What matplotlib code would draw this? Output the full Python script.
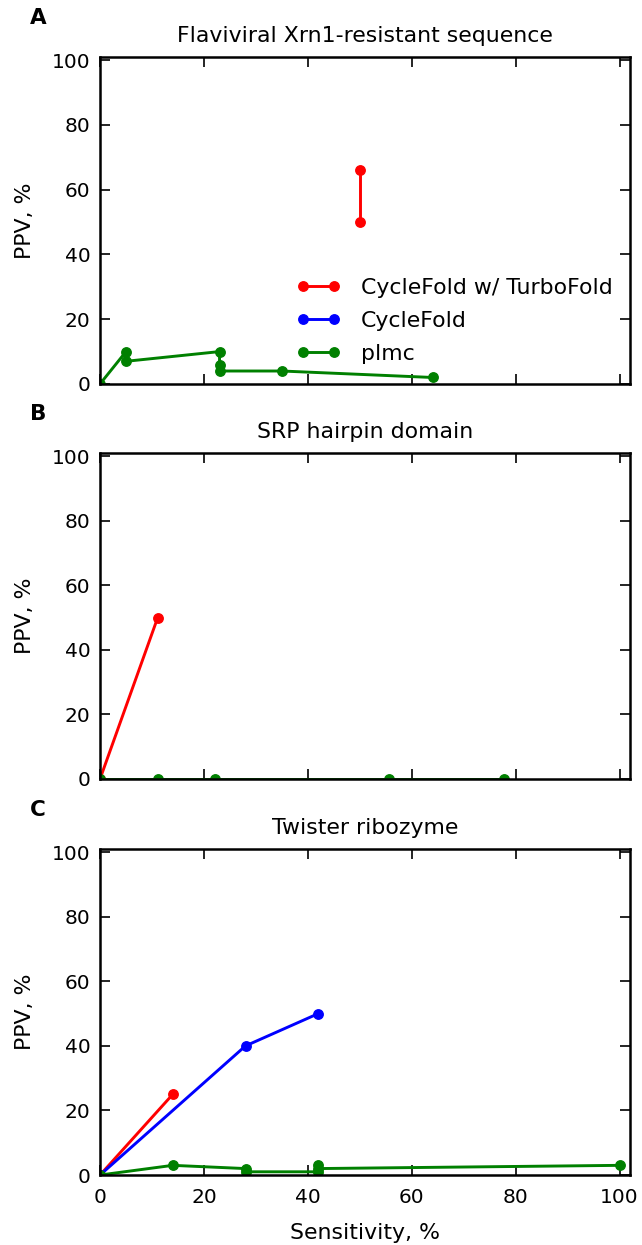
import matplotlib
matplotlib.use("Agg")
import matplotlib.pyplot as plt

# ---- data ----
titles = ["Flaviviral Xrn1-resistant sequence", "SRP hairpin domain", "Twister ribozyme"]
panel_letters = ["A", "B", "C"]
series_names = ["CycleFold w/ TurboFold", "CycleFold", "plmc"]

# Panel A
a_turbo_sens = [50, 50]
a_turbo_ppv = [66, 50]
a_cycle_sens = []
a_cycle_ppv = []
a_plmc_sens = [0, 5, 5, 23, 23, 23, 35, 64]
a_plmc_ppv = [0, 10, 7, 10, 6, 4, 4, 2]

# Panel B
b_turbo_sens = [0, 11.1]
b_turbo_ppv = [0, 50]
b_cycle_sens = []
b_cycle_ppv = []
b_plmc_sens = [0, 11.1, 22.2, 55.6, 77.8]
b_plmc_ppv = [0, 0, 0, 0, 0]

# Panel C
c_turbo_sens = [0, 14]
c_turbo_ppv = [0, 25]
c_cycle_sens = [0, 28, 42]
c_cycle_ppv = [0, 40, 50]
c_plmc_sens = [0, 14, 28, 28, 42, 42, 42, 100]
c_plmc_ppv = [0, 3, 2, 1, 1, 3, 2, 3]

x_ticks = [0, 20, 40, 60, 80, 100]
y_ticks = [0, 20, 40, 60, 80, 100]

colors = ["#ff0000", "#0000ff", "#008000"]

plt.rcParams["font.family"] = "DejaVu Sans"
plt.rcParams["font.size"] = 15

TICK_FS = 14.5
LABEL_FS = 15.8
TITLE_FS = 15.8

fig = plt.figure(figsize=(6.42, 12.45), dpi=100)
fig.patch.set_facecolor("white")

left, right = 0.1558, 0.9813
rows = [(0.6916, 0.9542), (0.3743, 0.6361), (0.0562, 0.3181)]

panels = [
    [(a_turbo_sens, a_turbo_ppv), (a_cycle_sens, a_cycle_ppv), (a_plmc_sens, a_plmc_ppv)],
    [(b_turbo_sens, b_turbo_ppv), (b_cycle_sens, b_cycle_ppv), (b_plmc_sens, b_plmc_ppv)],
    [(c_turbo_sens, c_turbo_ppv), (c_cycle_sens, c_cycle_ppv), (c_plmc_sens, c_plmc_ppv)],
]

for i, (bot, top) in enumerate(rows):
    ax = fig.add_axes([left, bot, right - left, top - bot])
    for j, (xs, ys) in enumerate(panels[i]):
        ax.plot(xs, ys, color=colors[j], lw=2.1, marker="o", ms=6.8,
                markeredgecolor=colors[j], label=series_names[j])
    ax.set_xlim(0, 102)
    ax.set_ylim(0, 101)
    ax.set_xticks(x_ticks)
    ax.set_yticks(y_ticks)
    ax.tick_params(direction="in", length=7, width=1.2, top=True, right=True,
                   labelsize=TICK_FS)
    ax.tick_params(axis="y", pad=7)
    ax.tick_params(axis="x", pad=9)
    for s in ax.spines.values():
        s.set_linewidth(1.8)
    ax.set_ylabel("PPV, %", fontsize=LABEL_FS, labelpad=12)
    ax.set_title(titles[i], fontsize=TITLE_FS, pad=10.5)
    if i < 2:
        ax.tick_params(labelbottom=False)
    else:
        ax.set_xlabel("Sensitivity, %", fontsize=LABEL_FS, labelpad=12)
    fig.text(0.047, top + 0.031, panel_letters[i], fontsize=15.5, fontweight="bold",
             ha="left", va="center")
    if i == 0:
        ax.legend(loc="center left", bbox_to_anchor=(0.333, 0.193), frameon=False,
                  numpoints=2, handlelength=2.0, handletextpad=0.93,
                  labelspacing=0.58, fontsize=LABEL_FS)

fig.savefig("out.png", dpi=100, facecolor="white")
